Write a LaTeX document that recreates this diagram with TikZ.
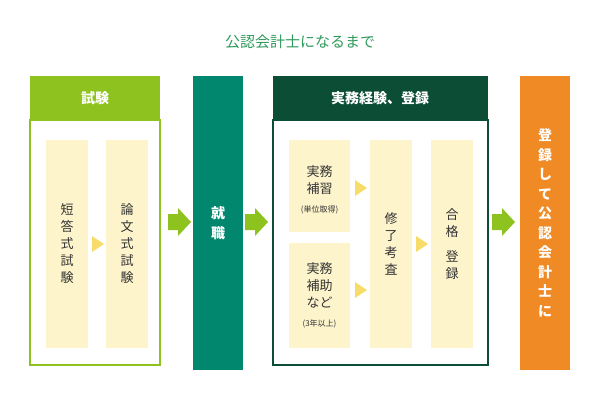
\documentclass[tikz,border=0pt]{standalone}
\usepackage{fontspec}
\setmainfont{Noto Sans CJK JP}
\usetikzlibrary{positioning}
\definecolor{lg}{HTML}{8DC21F}
\definecolor{tl}{HTML}{00876E}
\definecolor{dg}{HTML}{0B4D35}
\definecolor{og}{HTML}{F08A24}
\definecolor{cr}{HTML}{FDF4CC}
\definecolor{tri}{HTML}{F7DC6A}
\definecolor{tx}{HTML}{333333}
\definecolor{ttl}{HTML}{2E9A5A}
\begin{document}
\begin{tikzpicture}[x=1pt,y=-1pt,
  cell/.style={fill=cr,draw=none,text=tx,font=\fontsize{13}{17}\selectfont,align=center,inner sep=0pt},
  hdr/.style={text=white,font=\bfseries\fontsize{14}{18}\selectfont,align=center},
  tribox/.style={fill=tri,draw=none},
  garrow/.style={fill=lg,draw=none}]
\useasboundingbox (0,0) rectangle (600,400);
\node[text=ttl,font=\fontsize{15}{18}\selectfont] (title) at (300,42) {公認会計士になるまで};
% box 1
\draw[lg,line width=1.5pt] (30,120) rectangle (160,365);
\fill[lg] (30,76) rectangle (160,120);
\node[hdr] (h1) at (95,98) {試験};
\fill[cr] (46,140) rectangle (88,348); \node[cell] (c1) at (67,244) {短\\答\\式\\試\\験};
\fill[cr] (106,140) rectangle (148,348); \node[cell] (c2) at (127,244) {論\\文\\式\\試\\験};
\fill[tri] (92,236) -- (104,244) -- (92,252) -- cycle;
% arrows
\foreach \x in {168,245,492}{
 \fill[lg] (\x,214) -- (\x+10,214) -- (\x+10,208) -- (\x+23,222) -- (\x+10,236) -- (\x+10,230) -- (\x,230) -- cycle;}
% 就職
\fill[tl] (193,76) rectangle (243,370);
\node[hdr] (job) at (218,223) {就\\[2pt]職};
% box 3
\draw[dg,line width=1.5pt] (273,120) rectangle (488,365);
\fill[dg] (273,76) rectangle (488,120);
\node[hdr] (h3) at (380,98) {実務経験、登録};
\fill[cr] (289,140) rectangle (350,232);
\node[cell] (c3) at (319.5,180) {実務\\補習};
\node[text=tx,font=\fontsize{8}{9}\selectfont] (c3s) at (319.5,210) {(単位取得)};
\fill[cr] (289,243) rectangle (350,348);
\node[cell] (c4) at (319.5,285) {実務\\補助\\など};
\node[text=tx,font=\fontsize{8}{9}\selectfont] (c4s) at (319.5,324) {(3年以上)};
\fill[cr] (370,140) rectangle (412,348); \node[cell] (c5) at (391,244) {修\\了\\考\\査};
\fill[cr] (431,140) rectangle (473,348); \node[cell] (c6) at (452,244) {合\\格\\[8pt]登\\録};
\fill[tri] (355,180) -- (367,188) -- (355,196) -- cycle;
\fill[tri] (355,282) -- (367,290) -- (355,298) -- cycle;
\fill[tri] (416,236) -- (428,244) -- (416,252) -- cycle;
% final
\fill[og] (520,76) rectangle (570,370);
\node[hdr,font=\bfseries\fontsize{14}{19.5}\selectfont] (fin) at (545,223) {登\\録\\し\\て\\公\\認\\会\\計\\士\\に};
\end{tikzpicture}
\end{document}
